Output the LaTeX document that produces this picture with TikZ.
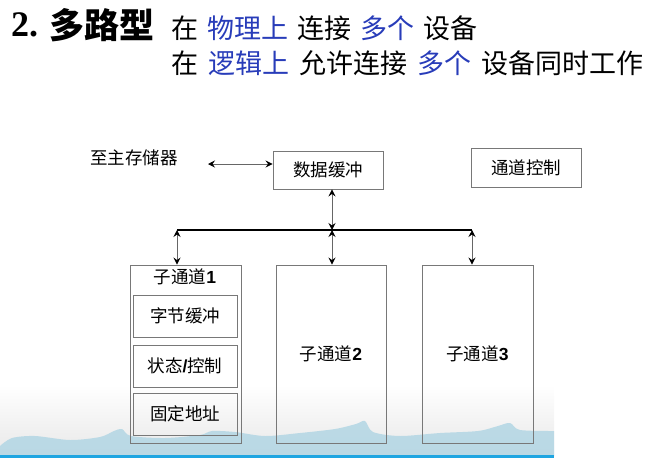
\documentclass[tikz,border=0pt]{standalone}
\usepackage{fontspec}
\setmainfont{Liberation Serif}
\newfontfamily\cjk{Noto Sans CJK SC}
\newfontfamily\arial{Liberation Sans}
\usetikzlibrary{arrows.meta}
\definecolor{kwblue}{RGB}{40,60,185}
\definecolor{boxgray}{RGB}{120,120,120}
\definecolor{wavecol}{RGB}{178,214,228}
\definecolor{lineblue}{RGB}{30,165,225}
\tikzset{
  box/.style={draw=boxgray, line width=0.9pt, inner sep=0pt, font=\cjk\fontsize{17.5}{20}\selectfont},
  lbl/.style={inner sep=0pt, font=\cjk\fontsize{17.5}{20}\selectfont},
  arr/.style={{Stealth[length=7pt,width=7pt,inset=2.5pt,color=black]}-{Stealth[length=7pt,width=7pt,inset=2.5pt,color=black]}, line width=0.9pt, draw=black!60},
  bus/.style={line width=2pt, black},
  hdr/.style={inner sep=0pt, anchor=west, font=\cjk\fontsize{27}{30}\selectfont}
}
\begin{document}
\begin{tikzpicture}[x=1pt,y=-1pt]
\useasboundingbox (0,0) rectangle (653,458);
% background decoration
\fill[top color=white, bottom color=black!9] (0,385) rectangle (554,456);
\fill[wavecol, opacity=0.85] plot[smooth] coordinates {(0,446) (12,438) (35,436) (70,440) (100,437) (114,431) (122,429) (131,436) (165,438) (200,435) (212,431) (235,432) (265,436) (300,433) (335,429) (356,424) (365,421) (373,432) (400,436) (440,433) (478,431) (498,426) (510,423) (520,430) (554,431)} -- (554,456) -- (0,456) -- cycle;
\fill[lineblue] (0,455) rectangle (554,458);

% title
\node[inner sep=0pt, anchor=west, font=\bfseries\fontsize{36}{40}\selectfont] (t2) at (11,25) {2.};
\node[inner sep=0pt, anchor=west, font=\cjk\bfseries\fontsize{35}{40}\selectfont] (t1) at (49,25) {多路型};
\node[hdr] (h1) at (171,28) {在\hspace{9pt}{\color{kwblue}物理上}\hspace{9pt}连接\hspace{9pt}{\color{kwblue}多个}\hspace{9pt}设备};
\node[hdr] (h2) at (171,63) {在\hspace{10pt}{\color{kwblue}逻辑上}\hspace{10pt}允许连接\hspace{10pt}{\color{kwblue}多个}\hspace{10pt}设备同时工作};

% top boxes
\node[lbl] (mem) at (134,158) {至主存储器};
\node[box, minimum width=110pt, minimum height=38pt] (buf) at (328,170) {数据缓冲};
\node[box, minimum width=110pt, minimum height=39pt] (ctrl) at (526,167.5) {通道控制};

% sub channels
\node[box, minimum width=111pt, minimum height=178pt] (s1) at (185.5,354) {};
\node[lbl] (l1) at (185,277) {子通道{\arial\bfseries 1}};
\node[box, minimum width=104pt, minimum height=42pt] (i1) at (185,316) {字节缓冲};
\node[box, minimum width=104pt, minimum height=42pt] (i2) at (185,366) {状态{\arial\bfseries /}控制};
\node[box, minimum width=104pt, minimum height=42pt] (i3) at (185,414) {固定地址};
\node[box, minimum width=110pt, minimum height=178pt] (s2) at (331,354) {子通道{\arial\bfseries 2}};
\node[box, minimum width=111pt, minimum height=178pt] (s3) at (477.5,354) {子通道{\arial\bfseries 3}};

% bus
\coordinate (bL) at (177,230);
\coordinate (bM) at (332,230);
\coordinate (bR) at (472,230);
\coordinate (mL) at (208,164);
\draw[bus] (bL) -- (bR);
\draw[arr] (mL) -- (mL -| buf.west);
\draw[arr] (buf.south -| bM) -- (bM);
\draw[arr] (bL) -- (bL |- s1.north);
\draw[arr] (bM) -- (bM |- s2.north);
\draw[arr] (bR) -- (bR |- s3.north);
\end{tikzpicture}
\end{document}
